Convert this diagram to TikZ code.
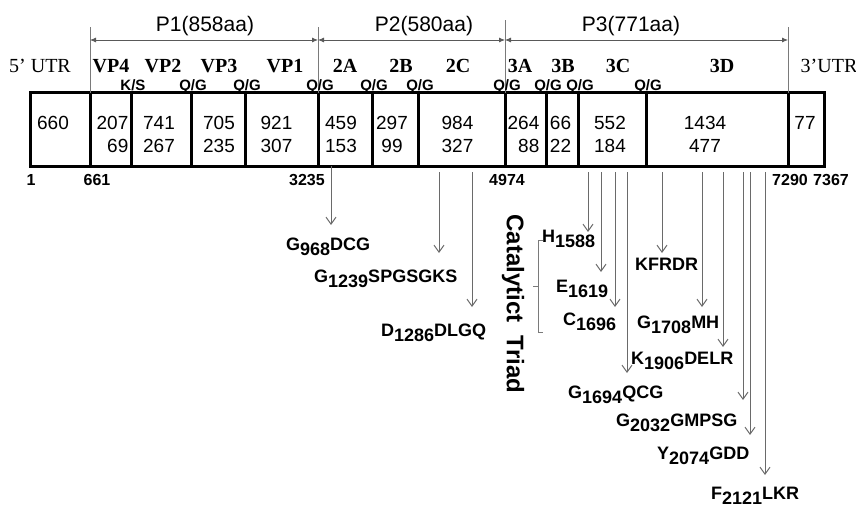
\documentclass[tikz,border=0pt]{standalone}
\usepackage{fontspec}
\setmainfont{Liberation Serif}
\setsansfont{Liberation Sans}
\usepackage{tikz}
\usetikzlibrary{arrows.meta,positioning}
\definecolor{cPin}{HTML}{6A6A6A}
\definecolor{cGuide}{HTML}{7A7A7A}
\newcommand{\lowr}[1]{\raisebox{-5.5pt}{#1}}
\tikzset{
  seg/.style    = {draw, line width=3pt, minimum height=73pt,
                   inner sep=0pt, outer sep=0pt},
  num/.style    = {font=\sffamily\fontsize{19}{23}\selectfont, align=center, inner sep=0pt},
  gene/.style   = {font=\rmfamily\bfseries\fontsize{20}{22}\selectfont, inner sep=0pt, anchor=base},
  utr/.style    = {font=\rmfamily\fontsize{20}{22}\selectfont, inner sep=0pt, anchor=base},
  poly/.style   = {font=\sffamily\fontsize{21}{24}\selectfont, inner sep=0pt, anchor=base},
  cutsite/.style = {font=\sffamily\bfseries\fontsize{15}{16}\selectfont, inner sep=0pt, anchor=base},
  ntpos/.style  = {font=\sffamily\bfseries\fontsize{16}{18}\selectfont, inner sep=0pt, anchor=base},
  motif/.style  = {font=\sffamily\bfseries\fontsize{18}{20}\selectfont, inner sep=0pt, anchor=base west},
  triad/.style  = {font=\sffamily\bfseries\fontsize{24}{26}\selectfont, inner sep=0pt},
  guide/.style  = {draw=cGuide, line width=0.9pt},
  spanarrow/.style = {{Latex[length=6pt,width=5pt]}-{Latex[length=6pt,width=5pt]},
                   draw=black!65, line width=0.8pt},
  motifarrow/.style = {-{Straight Barb[length=7pt,width=10pt]}, draw=cPin, line width=1pt},
}

\begin{document}
\begin{tikzpicture}[x=1pt, y=-1pt]
  \useasboundingbox (0,0) rectangle (856,508);
  % genome box, one segment per gene
  \node[seg, minimum width=60pt, anchor=north west] (utr5) at (30,93) {};
  \node[seg, minimum width=41pt, right=0pt of utr5] (vp4) {};
  \node[seg, minimum width=60pt, right=0pt of vp4] (vp2) {};
  \node[seg, minimum width=54pt, right=0pt of vp2] (vp3) {};
  \node[seg, minimum width=73pt, right=0pt of vp3] (vp1) {};
  \node[seg, minimum width=54pt, right=0pt of vp1] (s2a) {};
  \node[seg, minimum width=46pt, right=0pt of s2a] (s2b) {};
  \node[seg, minimum width=87pt, right=0pt of s2b] (s2c) {};
  \node[seg, minimum width=41pt, right=0pt of s2c] (s3a) {};
  \node[seg, minimum width=32pt, right=0pt of s3a] (s3b) {};
  \node[seg, minimum width=68pt, right=0pt of s3b] (s3c) {};
  \node[seg, minimum width=142pt, right=0pt of s3c] (s3d) {};
  \node[seg, minimum width=36pt, right=0pt of s3d] (utr3) {};
  % nt / aa lengths
  \node[num] (n660) at ([xshift=-7pt, yshift=6.5pt]utr5.center) {660};
  \node[num, align=right] (nvp4) at ([xshift=2pt, yshift=-5pt]vp4.center) {207\\69};
  \node[num] (nvp2) at ([xshift=-2pt, yshift=-5pt]vp2.center) {741\\267};
  \node[num] (nvp3) at ([xshift=1pt, yshift=-5pt]vp3.center) {705\\235};
  \node[num] (nvp1) at ([xshift=-5pt, yshift=-5pt]vp1.center) {921\\307};
  \node[num] (n2a) at ([xshift=-4pt, yshift=-5pt]s2a.center) {459\\153};
  \node[num] (n2b) at ([xshift=-3pt, yshift=-5pt]s2b.center) {297\\99};
  \node[num] (n2c) at ([xshift=-4pt, yshift=-5pt]s2c.center) {984\\327};
  \node[num, align=right] (n3a) at ([xshift=-2pt, yshift=-5pt]s3a.center) {264\\88};
  \node[num] (n3b) at ([xshift=-1.5pt, yshift=-5pt]s3b.center) {66\\22};
  \node[num] (n3c) at ([xshift=-2pt, yshift=-5pt]s3c.center) {552\\184};
  \node[num] (n3d) at ([xshift=-12pt, yshift=-5pt]s3d.center) {1434\\477};
  \node[num] (n77) at ([xshift=-1pt, yshift=6.5pt]utr3.center) {77};
  % polyprotein spans
  \coordinate (lvl) at (0,27);
  \coordinate (lvl3) at (0,20);
  \coordinate (arr) at (0,40);
  \draw[guide] (vp4.north west) -- (vp4.north west |- lvl);
  \draw[guide] (s2a.north west) -- (s2a.north west |- lvl);
  \draw[guide] (s3a.north west) -- (s3a.north west |- lvl3);
  \draw[guide] (utr3.north west) -- (utr3.north west |- lvl);
  \draw[spanarrow] (vp4.north west |- arr) -- (s2a.north west |- arr);
  \draw[spanarrow] (s2a.north west |- arr) -- (s3a.north west |- arr);
  \draw[spanarrow] (s3a.north west |- arr) -- (utr3.north west |- arr);
  \node[poly] (p1) at (205,32) {P1(858aa)};
  \node[poly] (p2) at (424,32) {P2(580aa)};
  \node[poly] (p3) at (631,32) {P3(771aa)};
  % gene names
  \node[utr] (l5utr) at (40,73) {5’ UTR};
  \node[gene] (lvp4) at (111,73) {VP4};
  \node[gene] (lvp2) at (163,73) {VP2};
  \node[gene] (lvp3) at (219,73) {VP3};
  \node[gene] (lvp1) at (285,73) {VP1};
  \node[gene] (l2a) at (345,73) {2A};
  \node[gene] (l2b) at (401,73) {2B};
  \node[gene] (l2c) at (458,73) {2C};
  \node[gene] (l3a) at (520,73) {3A};
  \node[gene] (l3b) at (563,73) {3B};
  \node[gene] (l3c) at (618,73) {3C};
  \node[gene] (l3d) at (722,73) {3D};
  \node[utr] (l3utr) at (829,73) {3’UTR};
  % cleavage sites
  \node[cutsite] (c1) at (133,91) {K/S};
  \node[cutsite] (c2) at (193,91) {Q/G};
  \node[cutsite] (c3) at (247,91) {Q/G};
  \node[cutsite] (c4) at (320,91) {Q/G};
  \node[cutsite] (c5) at (374,91) {Q/G};
  \node[cutsite] (c6) at (420,91) {Q/G};
  \node[cutsite] (c7) at (507,91) {Q/G};
  \node[cutsite] (c8) at (548,91) {Q/G};
  \node[cutsite] (c9) at (580,91) {Q/G};
  \node[cutsite] (c10) at (648,91) {Q/G};
  % nucleotide positions
  \node[ntpos] (x1) at (31,185) {1};
  \node[ntpos] (x661) at (97,185) {661};
  \node[ntpos] (x3235) at (307,185) {3235};
  \node[ntpos] (x4974) at (507,185) {4974};
  \node[ntpos] (x7290) at (790,185) {7290};
  \node[ntpos] (x7367) at (831,185) {7367};
  % conserved motifs
  \node[motif] (g968) at (286,250) {G\lowr{968}DCG};
  \node[motif] (g1239) at (314,282) {G\lowr{1239}SPGSGKS};
  \node[motif] (d1286) at (381,336) {D\lowr{1286}DLGQ};
  \node[motif] (h1588) at (542,242) {H\lowr{1588}};
  \node[motif] (e1619) at (556,292) {E\lowr{1619}};
  \node[motif] (c1696) at (563,325) {C\lowr{1696}};
  \node[motif] (kfrdr) at (635,270) {KFRDR};
  \node[motif] (g1708) at (637,328) {G\lowr{1708}MH};
  \node[motif] (k1906) at (631,364) {K\lowr{1906}DELR};
  \node[motif] (g1694) at (568,398) {G\lowr{1694}QCG};
  \node[motif] (g2032) at (616,426) {G\lowr{2032}GMPSG};
  \node[motif] (y2074) at (657,459) {Y\lowr{2074}GDD};
  \node[motif] (f2121) at (711,499) {F\lowr{2121}LKR};
  % arrows from the genome to the motifs
  \coordinate (base) at (0,172);
  \coordinate (t968) at (331,225);  \draw[motifarrow] (t968 |- vp1.south) -- (t968);
  \coordinate (t1239) at (439,253); \draw[motifarrow] (t1239 |- base) -- (t1239);
  \coordinate (t1286) at (472,307); \draw[motifarrow] (t1286 |- base) -- (t1286);
  \coordinate (t1588) at (588,232); \draw[motifarrow] (t1588 |- base) -- (t1588);
  \coordinate (t1619) at (601,272); \draw[motifarrow] (t1619 |- base) -- (t1619);
  \coordinate (t1696) at (615,307); \draw[motifarrow] (t1696 |- base) -- (t1696);
  \coordinate (t1694) at (627,373); \draw[motifarrow] (t1694 |- base) -- (t1694);
  \coordinate (tkfr) at (662,253);  \draw[motifarrow] (tkfr |- base) -- (tkfr);
  \coordinate (t1708) at (702,307); \draw[motifarrow] (t1708 |- base) -- (t1708);
  \coordinate (t1906) at (723,347); \draw[motifarrow] (t1906 |- base) -- (t1906);
  \coordinate (t2032) at (743,400); \draw[motifarrow] (t2032 |- base) -- (t2032);
  \coordinate (t2074) at (750,435); \draw[motifarrow] (t2074 |- base) -- (t2074);
  \coordinate (t2121) at (765,475); \draw[motifarrow] (t2121 |- base) -- (t2121);
  % catalytic triad bracket
  \node[triad, rotate=-90] (triad) at (513,304) {Catalytict\ \ Triad};
  \draw[guide] (543,240) -- (538,240) -- (538,332) -- (543,332);
  \draw[guide] (538,286) -- (533,286);
\end{tikzpicture}
\end{document}
